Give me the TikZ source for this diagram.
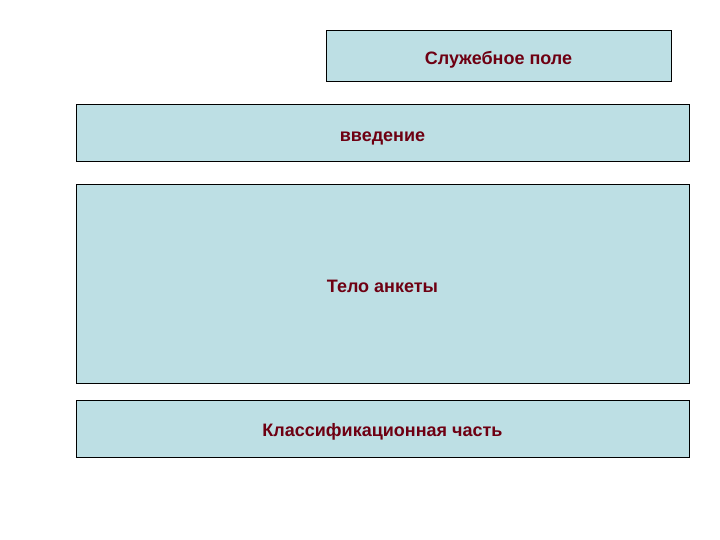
\documentclass[tikz,border=0pt]{standalone}
\usepackage{fontspec}
\setmainfont{Liberation Sans}
\usepackage{tikz}
\usetikzlibrary{positioning}

\definecolor{boxfill}{HTML}{BDDFE4}
\definecolor{boxtext}{HTML}{6E0012}

\begin{document}
\begin{tikzpicture}[x=1pt,y=1pt,
    part/.style={draw=black,line width=1pt,fill=boxfill,inner sep=0pt,outer sep=0pt,
      text=boxtext,font=\fontsize{18}{20}\selectfont\bfseries,minimum width=613pt,
      text height=16pt,text depth=0pt},
    node distance=23pt]
    \useasboundingbox (0,0) rectangle (720,-540);

    %main column
    \node[part,minimum height=57pt] (intro) at (382.5,-133.5) {введение};
    \node[part,minimum height=198pt] (body) [below =of intro] {Тело анкеты};
    \node[part,minimum height=57pt] (klass) [below =17pt of body] {Классификационная часть};

    %service field
    \node[part,minimum width=345pt,minimum height=51pt] (service)
      [above left =23pt and 18pt of intro.north east] {Служебное поле};
\end{tikzpicture}
\end{document}
